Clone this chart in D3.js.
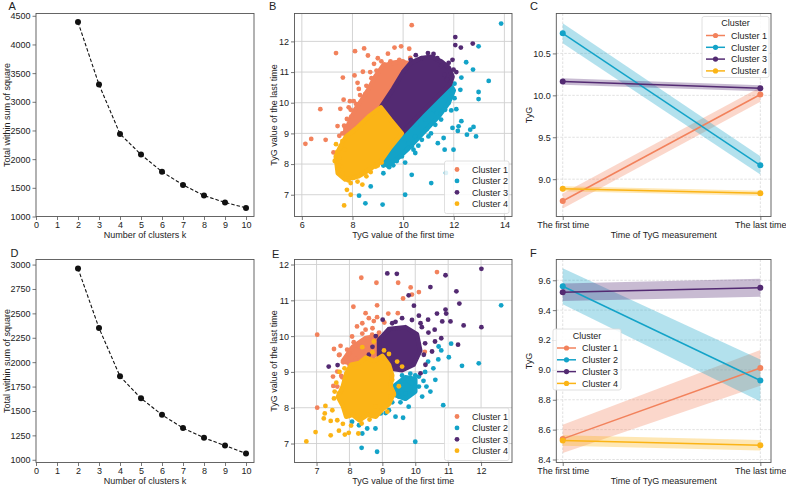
<!DOCTYPE html>
<html>
<head>
<meta charset="utf-8">
<script src="https://cdn.jsdelivr.net/npm/d3@7"></script>
<style>
  body { margin: 0; background: #fff; }
  text { font-family: "Liberation Sans", Arial, sans-serif; fill: #222; }
</style>
</head>
<body>
<div id="chart"></div>
<script>
// ---- data ----
var clusterNames = ["Cluster 1", "Cluster 2", "Cluster 3", "Cluster 4"];
var clusterColors = ["#f2825c", "#13a3c8", "#532a72", "#fbb416"];

// elbow plots (A, D)
var elbowK = [2, 3, 4, 5, 6, 7, 8, 9, 10];
var elbowA = [4390, 3300, 2440, 2080, 1780, 1550, 1365, 1245, 1150];
var elbowD = [2960, 2350, 1855, 1630, 1460, 1325, 1225, 1145, 1065];

// trajectory plots (C, F): mean and half-width of band at first / last time
var timeLabels = ["The first time", "The last time"];
var trajCFirst = [8.74, 10.74, 10.165, 8.885];
var trajCLast  = [10.01, 9.165, 10.085, 8.832];
var bandCFirst = [0.09, 0.12, 0.04, 0.03];
var bandCLast  = [0.085, 0.11, 0.035, 0.03];
var trajFFirst = [8.538, 9.56, 9.52, 8.527];
var trajFLast  = [9.013, 8.929, 9.55, 8.496];
var bandFFirst = [0.095, 0.12, 0.058, 0.035];
var bandFLast  = [0.12, 0.14, 0.06, 0.035];

// scatter B: dense cores (outlines) and visible single points, per cluster
var coreB = [
  [[7.75,8.9],[8.17,9.17],[8.64,9.55],[9.12,9.85],[9.6,10.45],[10.0,11.0],[10.25,11.2],[10.0,11.35],[9.6,11.3],[9.2,11.2],[8.9,10.85],[8.64,10.45],[8.37,10.1],[8.1,9.77],[7.87,9.35],[7.7,9.05]],
  [[9.1,8.08],[9.95,9.0],[10.7,9.65],[11.3,10.15],[11.85,10.6],[12.0,10.4],[11.8,10.0],[11.4,9.55],[11.0,9.2],[10.6,8.85],[10.2,8.5],[9.8,8.2],[9.4,7.95]],
  [[9.12,9.85],[9.6,10.45],[10.0,11.0],[10.3,11.3],[10.7,11.45],[11.1,11.5],[11.5,11.35],[11.8,11.15],[11.95,10.85],[11.85,10.6],[11.3,10.15],[10.7,9.65],[10.3,9.3],[9.95,9.0]],
  [[7.75,8.9],[8.17,9.17],[8.64,9.55],[9.12,9.85],[9.5,9.45],[9.95,9.0],[9.5,8.55],[9.1,8.08],[8.64,7.8],[8.24,7.6],[7.71,7.5],[7.42,7.7],[7.34,8.25],[7.52,8.57]]
];
var pointsB = [
  [[7.35,11.62],[8.10,11.68],[8.46,11.77],[8.61,11.54],[7.62,10.82],[8.08,10.89],[8.41,11.01],[7.65,10.10],[6.73,9.79],[7.52,9.80],[8.51,10.29],[7.41,9.24],[7.67,9.25],[7.78,9.47],[6.37,8.82],[6.14,8.66],[6.94,8.79],[7.25,8.38],[7.48,8.92],[7.93,9.77],[9.66,11.80],[9.92,11.84],[9.14,11.35],[8.85,11.27],[10.34,12.53],[10.24,11.76],[10.28,11.46],[10.05,11.18],[7.60,9.00],[7.72,9.15],[7.95,9.55],[8.15,9.95],[8.30,10.25],[8.55,10.55],[8.75,10.80],[8.95,11.05],[9.25,11.25],[9.50,11.35],[9.85,11.40],[10.15,11.30],[7.85,9.85],[8.05,10.05],[8.25,10.45],[8.70,11.00],[9.40,11.60],[9.00,11.45],[7.90,10.05],[8.20,10.65]],
  [[13.87,12.58],[12.98,11.84],[12.49,11.32],[12.76,11.08],[13.38,10.71],[12.98,10.35],[12.98,10.12],[12.30,10.82],[12.03,10.62],[12.26,10.42],[12.03,10.15],[12.10,9.79],[11.90,9.75],[12.65,9.12],[12.78,9.21],[12.88,8.90],[12.52,8.96],[12.19,9.23],[12.16,9.08],[11.95,9.18],[11.99,8.47],[11.60,8.85],[11.64,8.47],[11.37,8.68],[11.11,7.38],[11.69,7.71],[10.34,7.65],[10.08,7.00],[10.48,8.36],[10.41,8.47],[10.08,8.05],[11.00,8.90],[9.22,7.70],[8.72,7.27],[8.26,6.97],[8.51,6.72],[9.19,6.68],[9.61,7.96],[9.22,7.95],[10.47,8.90],[10.74,8.79],[10.94,9.14],[11.27,9.28],[11.50,9.45],[11.66,9.77],[11.79,9.99],[11.33,9.66],[10.54,9.28],[10.87,9.45],[10.34,8.58],[9.95,8.25],[10.21,8.68],[11.20,9.77],[11.53,10.21],[11.73,10.42],[11.86,10.70],[9.45,7.90],[9.75,8.10],[10.6,8.6],[11.1,9.0],[12.3,9.4]],
  [[12.06,12.14],[12.75,11.93],[12.06,11.88],[12.28,11.80],[10.98,11.62],[11.20,11.59],[10.74,11.45],[11.95,11.40],[11.99,11.08],[11.50,11.20],[11.64,10.91],[11.73,10.75],[10.50,11.55],[10.3,11.4],[11.35,11.45],[12.1,11.0],[11.8,11.3]],
  [[7.67,6.65],[7.93,7.00],[7.78,7.16],[7.83,7.47],[7.54,7.92],[7.48,8.20],[7.70,8.47],[7.93,7.38],[8.20,7.43],[8.39,7.33],[8.72,7.74],[8.92,7.92],[7.40,8.40],[7.30,8.10],[7.45,7.95],[7.60,7.70],[8.05,7.55],[8.55,7.60],[9.00,7.95],[9.15,8.05],[7.35,8.65],[7.6,8.75]]
];

// scatter E
var coreE = [
  [[7.8,9.3],[8.1,9.7],[8.5,9.95],[8.85,10.0],[9.0,9.7],[8.7,9.4],[8.2,9.2]],
  [[9.35,8.6],[9.7,8.85],[10.0,8.8],[10.0,8.45],[9.7,8.25],[9.4,8.35]],
  [[8.9,9.9],[9.2,10.2],[9.7,10.25],[10.05,10.05],[10.15,9.6],[9.95,9.2],[9.6,9.05],[9.2,9.1],[8.9,9.4]],
  [[7.9,8.95],[8.05,9.2],[8.3,9.25],[8.5,9.4],[8.75,9.3],[9.0,9.45],[9.2,9.2],[9.3,8.9],[9.25,8.6],[9.35,8.4],[9.2,8.1],[9.0,7.95],[8.8,7.75],[8.55,7.8],[8.3,7.65],[8.1,7.8],[7.9,7.75],[7.8,8.05],[7.65,8.3],[7.8,8.6]]
];
var pointsE = [
  [[8.36,11.63],[8.82,11.49],[9.48,11.49],[9.86,11.36],[10.66,11.79],[10.11,11.23],[9.63,11.05],[9.90,11.16],[8.12,10.82],[8.84,10.86],[7.02,10.04],[9.47,10.64],[9.18,10.63],[8.84,10.53],[9.06,10.38],[8.74,10.42],[8.39,10.07],[10.29,9.56],[7.02,8.00],[7.53,9.64],[7.73,9.73],[7.70,9.48],[7.93,9.62],[8.13,9.83],[8.00,9.52],[7.50,8.87],[7.63,9.01],[7.63,8.59],[7.78,8.85],[8.08,9.99],[8.49,10.18],[8.59,9.90],[8.29,9.71],[8.39,10.36],[8.59,10.50],[8.49,10.64],[8.23,10.27],[8.69,10.04],[8.70,10.22],[7.98,9.50],[7.68,9.47],[7.81,9.27],[8.19,9.36],[7.75,8.89],[7.51,8.61],[8.9,10.1],[8.45,9.55],[8.0,9.2]],
  [[12.61,10.86],[11.09,9.79],[10.79,9.60],[11.02,9.41],[11.42,9.17],[11.93,9.24],[10.71,9.71],[10.39,9.29],[10.11,8.87],[10.11,8.59],[10.61,8.78],[10.34,8.59],[10.46,8.45],[10.21,8.31],[10.85,8.07],[10.00,7.05],[8.84,6.77],[8.37,6.88],[8.29,7.51],[8.39,7.28],[8.54,7.42],[8.79,7.42],[8.95,7.84],[9.20,7.93],[9.40,7.75],[9.63,7.72],[8.08,7.61],[9.80,8.03],[9.50,8.31],[9.70,8.40],[9.90,8.68],[9.6,8.9],[9.8,8.75],[10.0,8.9],[9.4,8.6],[9.55,8.15],[10.3,9.0],[10.55,9.1],[10.7,9.35],[9.3,8.15],[9.1,7.85],[10.25,8.75],[9.85,8.95]],
  [[9.44,11.74],[10.92,11.70],[12.01,11.88],[11.25,11.25],[11.34,10.91],[10.46,11.37],[9.96,10.85],[9.80,11.14],[11.47,10.30],[12.01,10.25],[10.92,10.74],[10.94,10.63],[11.07,10.41],[10.66,10.63],[10.82,10.41],[10.39,10.46],[10.11,10.57],[10.16,10.36],[10.59,10.18],[10.79,9.94],[11.30,9.76],[10.51,9.57],[10.26,9.48],[10.31,9.20],[10.16,8.96],[7.37,9.15],[7.64,9.19],[9.15,11.75],[9.30,10.36],[9.20,10.18],[8.59,9.48],[9.01,10.46],[10.4,10.1],[10.6,9.85],[9.6,10.5],[9.9,10.45],[10.3,9.8],[8.7,9.7],[8.9,9.3],[10.2,10.25],[8.8,10.0],[9.4,10.4]],
  [[6.69,7.06],[6.97,7.32],[7.43,7.23],[7.68,7.36],[7.86,7.25],[7.98,7.30],[8.27,7.28],[7.63,7.65],[7.43,7.63],[7.25,7.84],[7.22,7.70],[7.48,7.93],[7.27,8.05],[7.53,8.26],[7.68,8.40],[8.61,7.67],[8.37,7.56],[8.79,8.03],[9.15,7.89],[9.25,8.31],[9.60,9.15],[9.45,9.29],[9.30,8.78],[9.35,8.36],[8.74,9.85],[8.39,9.69],[7.6,8.7],[7.7,9.0],[9.5,8.6],[9.2,9.5],[7.55,8.45],[7.8,7.55],[8.05,7.5],[8.7,9.55],[9.05,9.6],[7.85,9.1]]
];

// ---- layout ----
var w = 786, h = 488;
var top0 = 13.5, bot0 = 216.5, top1 = 259.5, bot1 = 462.5;

var svg = d3.select("#chart").append("svg")
  .attr("width", w).attr("height", h);

var clipId = 0;

function frame(p) {
  svg.append("rect")
    .attr("x", p.x0).attr("y", p.y0)
    .attr("width", p.x1 - p.x0).attr("height", p.y1 - p.y0)
    .attr("fill", "none").attr("stroke", "#555").attr("stroke-width", 0.9);
}

function clip(p) {
  clipId++;
  svg.append("clipPath").attr("id", "clip" + clipId)
    .append("rect")
    .attr("x", p.x0).attr("y", p.y0)
    .attr("width", p.x1 - p.x0).attr("height", p.y1 - p.y0);
  return svg.append("g").attr("clip-path", "url(#clip" + clipId + ")");
}

function axes(p, xScale, yScale, xTicks, yTicks, xFmt, yFmt, grid, dashed) {
  if (grid) {
    var gg = svg.append("g");
    gg.selectAll(".gx").data(xTicks).enter().append("line")
      .attr("x1", function(d) { return xScale(d); })
      .attr("x2", function(d) { return xScale(d); })
      .attr("y1", p.y0).attr("y2", p.y1)
      .attr("stroke", dashed ? "#d4d4d4" : "#cfcfcf")
      .attr("stroke-width", dashed ? 0.7 : 0.9)
      .attr("stroke-dasharray", dashed ? "2.5,1.5" : null);
    gg.selectAll(".gy").data(yTicks).enter().append("line")
      .attr("y1", function(d) { return yScale(d); })
      .attr("y2", function(d) { return yScale(d); })
      .attr("x1", p.x0).attr("x2", p.x1)
      .attr("stroke", dashed ? "#d4d4d4" : "#cfcfcf")
      .attr("stroke-width", dashed ? 0.7 : 0.9)
      .attr("stroke-dasharray", dashed ? "2.5,1.5" : null);
  }
  var xAxis = d3.axisBottom(xScale).tickValues(xTicks).tickSize(3.5).tickPadding(2).tickFormat(xFmt);
  var yAxis = d3.axisLeft(yScale).tickValues(yTicks).tickSize(3.5).tickPadding(2).tickFormat(yFmt);
  var xg = svg.append("g").attr("transform", "translate(0," + p.y1 + ")").call(xAxis);
  var yg = svg.append("g").attr("transform", "translate(" + p.x0 + ",0)").call(yAxis);
  [xg, yg].forEach(function(g) {
    g.select(".domain").remove();
    g.selectAll(".tick line").attr("stroke", "#555").attr("stroke-width", 0.8);
    g.selectAll(".tick text").attr("font-size", "9px")
      .style("font-family", "'Liberation Sans', Arial, sans-serif").attr("fill", "#222");
  });
}

function labels(p, letter, lx, ly, xLabel, yLabel, yLabelX) {
  svg.append("text").attr("x", lx).attr("y", ly).attr("font-size", "11px").text(letter);
  svg.append("text").attr("x", (p.x0 + p.x1) / 2).attr("y", p.y1 + 21.5)
    .attr("text-anchor", "middle").attr("font-size", "9px").text(xLabel);
  svg.append("text")
    .attr("transform", "translate(" + yLabelX + "," + ((p.y0 + p.y1) / 2) + ") rotate(-90)")
    .attr("text-anchor", "middle").attr("font-size", "9px").text(yLabel);
}

// ---- elbow panels ----
function elbow(p, values, yDomain, yTicks, letter, lx, ly) {
  var x = d3.scaleLinear().domain([0, 10.38]).range([p.x0, p.x1]);
  var y = d3.scaleLinear().domain(yDomain).range([p.y1, p.y0]);
  axes(p, x, y, d3.range(0, 11), yTicks, d3.format("d"), d3.format("d"), false);
  var line = d3.line().x(function(d, i) { return x(elbowK[i]); }).y(function(d) { return y(d); });
  svg.append("path").datum(values).attr("d", line)
    .attr("fill", "none").attr("stroke", "#111").attr("stroke-width", 1.1)
    .attr("stroke-dasharray", "3.5,2");
  svg.selectAll(null).data(values).enter().append("circle")
    .attr("cx", function(d, i) { return x(elbowK[i]); })
    .attr("cy", function(d) { return y(d); })
    .attr("r", 3).attr("fill", "#111");
  frame(p);
  labels(p, letter, lx, ly, "Number of clusters k", "Total within sum of square", p.x0 - 26);
}

// ---- scatter panels ----
function scatter(p, cores, points, xDomain, yDomain, xTicks, yTicks, letter, lx, ly, legTop) {
  var x = d3.scaleLinear().domain(xDomain).range([p.x0, p.x1]);
  var y = d3.scaleLinear().domain(yDomain).range([p.y1, p.y0]);
  axes(p, x, y, xTicks, yTicks, d3.format("d"), d3.format("d"), true, false);
  var g = clip(p);
  var outline = d3.line().x(function(d) { return x(d[0]); }).y(function(d) { return y(d[1]); })
    .curve(d3.curveLinearClosed);
  clusterNames.forEach(function(name, i) {
    g.append("path").datum(cores[i]).attr("d", outline)
      .attr("fill", clusterColors[i]).attr("stroke", clusterColors[i])
      .attr("stroke-width", 4.6).attr("stroke-linejoin", "round");
    g.selectAll(null).data(points[i]).enter().append("circle")
      .attr("cx", function(d) { return x(d[0]); })
      .attr("cy", function(d) { return y(d[1]); })
      .attr("r", 2.4).attr("fill", clusterColors[i]);
  });
  frame(p);
  labels(p, letter, lx, ly, "TyG value of the first time", "TyG value of the last time", p.x0 - 18);

  var lg = svg.append("g");
  lg.append("rect").attr("x", 444.5).attr("y", legTop).attr("width", 64.5).attr("height", 52.5)
    .attr("rx", 2).attr("fill", "#fff").attr("fill-opacity", 0.85)
    .attr("stroke", "#d8d8d8").attr("stroke-width", 0.8);
  clusterNames.forEach(function(name, i) {
    var cy = legTop + 8.5 + i * 11.4;
    lg.append("circle").attr("cx", 457).attr("cy", cy).attr("r", 2.4).attr("fill", clusterColors[i]);
    lg.append("text").attr("x", 472).attr("y", cy + 3.2).attr("font-size", "9px").text(name);
  });
}

// ---- trajectory panels ----
function trajectory(p, first, last, bFirst, bLast, yDomain, yTicks, yFmt, letter, lx, ly, leg) {
  var x = d3.scaleLinear().domain([-0.0325, 1.054]).range([p.x0, p.x1]);
  var y = d3.scaleLinear().domain(yDomain).range([p.y1, p.y0]);
  axes(p, x, y, [0, 1], yTicks, function(d) { return timeLabels[d]; }, yFmt, true, true);
  var g = clip(p);
  var area = d3.area().x(function(d) { return x(d.t); })
    .y0(function(d) { return y(d.lo); }).y1(function(d) { return y(d.hi); });
  clusterNames.forEach(function(name, i) {
    var band = [
      { t: 0, lo: first[i] - bFirst[i], hi: first[i] + bFirst[i] },
      { t: 1, lo: last[i] - bLast[i], hi: last[i] + bLast[i] }
    ];
    g.append("path").datum(band).attr("d", area)
      .attr("fill", clusterColors[i]).attr("fill-opacity", 0.32);
  });
  clusterNames.forEach(function(name, i) {
    var pts = [[0, first[i]], [1, last[i]]];
    g.append("line")
      .attr("x1", x(0)).attr("y1", y(first[i]))
      .attr("x2", x(1)).attr("y2", y(last[i]))
      .attr("stroke", clusterColors[i]).attr("stroke-width", 1.5);
    g.selectAll(null).data(pts).enter().append("circle")
      .attr("cx", function(d) { return x(d[0]); })
      .attr("cy", function(d) { return y(d[1]); })
      .attr("r", 3).attr("fill", clusterColors[i]);
  });
  frame(p);
  labels(p, letter, lx, ly, "Time of TyG measurement", "TyG", p.x0 - 24);

  var lg = svg.append("g");
  lg.append("rect").attr("x", leg.x).attr("y", leg.y).attr("width", leg.w).attr("height", 61)
    .attr("rx", 2).attr("fill", "#fff").attr("fill-opacity", 0.85)
    .attr("stroke", "#d8d8d8").attr("stroke-width", 0.8);
  lg.append("text").attr("x", leg.x + leg.w / 2).attr("y", leg.y + 9.5)
    .attr("text-anchor", "middle").attr("font-size", "9px").text("Cluster");
  clusterNames.forEach(function(name, i) {
    var cy = leg.y + 19 + i * 11.8;
    lg.append("line").attr("x1", leg.x + 4).attr("x2", leg.x + 23)
      .attr("y1", cy).attr("y2", cy)
      .attr("stroke", clusterColors[i]).attr("stroke-width", 1.5);
    lg.append("circle").attr("cx", leg.x + 13.5).attr("cy", cy).attr("r", 2.6).attr("fill", clusterColors[i]);
    lg.append("text").attr("x", leg.x + 29).attr("y", cy + 3.2).attr("font-size", "9px").text(name);
  });
}

var pA = { x0: 36, x1: 254, y0: top0, y1: bot0 };
var pB = { x0: 294.5, x1: 512, y0: top0, y1: bot0 };
var pC = { x0: 556.3, x1: 771, y0: top0, y1: bot0 };
var pD = { x0: 36, x1: 254, y0: top1, y1: bot1 };
var pE = { x0: 294.5, x1: 512, y0: top1, y1: bot1 };
var pF = { x0: 556.3, x1: 771, y0: top1, y1: bot1 };

elbow(pA, elbowA, [1000, 4540], d3.range(1000, 4501, 500), "A", 8.5, 9.5);
elbow(pD, elbowD, [972, 3052], d3.range(1000, 3001, 250), "D", 10.5, 257);

scatter(pB, coreB, pointsB, [5.71, 14.3], [6.29, 12.91], [6, 8, 10, 12, 14], [7, 8, 9, 10, 11, 12], "B", 269, 10, 161);
scatter(pE, coreE, pointsE, [6.33, 12.94], [6.47, 12.14], [7, 8, 9, 10, 11, 12], [7, 8, 9, 10, 11, 12], "E", 272, 258, 408);

trajectory(pC, trajCFirst, trajCLast, bandCFirst, bandCLast, [8.555, 10.976], [9.0, 9.5, 10.0, 10.5],
  d3.format(".1f"), "C", 530, 10, { x: 702, y: 16.5, w: 67 });
trajectory(pF, trajFFirst, trajFLast, bandFFirst, bandFLast, [8.38, 9.739], [8.4, 8.6, 8.8, 9.0, 9.2, 9.4, 9.6],
  d3.format(".1f"), "F", 530, 257, { x: 553, y: 329, w: 68 });
</script>
</body>
</html>
